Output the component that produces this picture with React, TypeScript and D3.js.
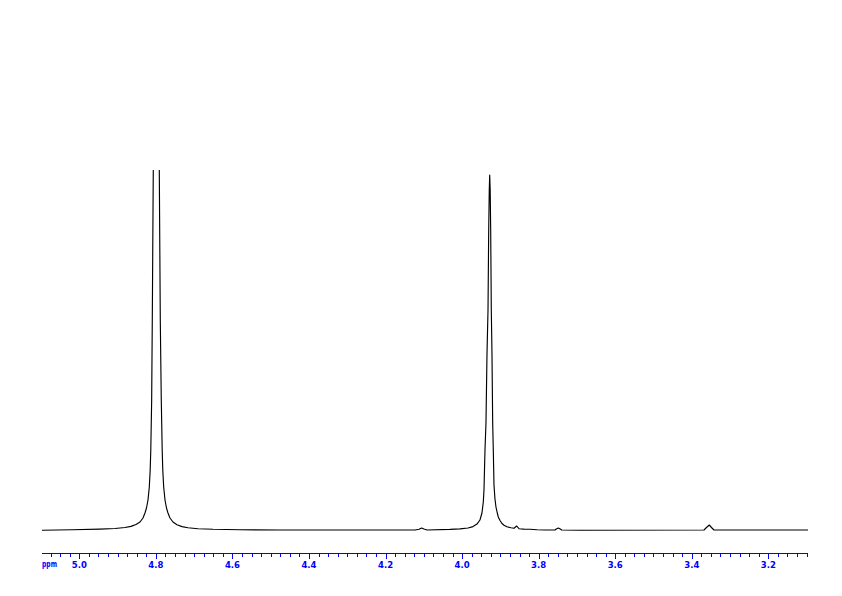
import React from "react";
import * as d3 from "d3";

// Spectrum trace: [chemical shift (ppm), intensity (a.u.)]
const spectrum: [number, number][] = [
  [5.0974, -0.3], [5.0191, 0.3], [4.9459, 0.9], [4.9067, 1.5], [4.8806, 2.5],
  [4.8649, 3.6], [4.8519, 5.5], [4.8414, 8], [4.8336, 12], [4.8284, 17],
  [4.8245, 22], [4.8205, 30], [4.8171, 43], [4.8148, 60], [4.8132, 80],
  [4.8109, 130], [4.8093, 210], [4.8067, 360], [4.8062, 380], [4.7983, 600],
  [4.7915, 380], [4.791, 360], [4.7884, 210], [4.7858, 130], [4.7834, 80],
  [4.7819, 60], [4.7795, 43], [4.7761, 30], [4.7722, 22], [4.7683, 17],
  [4.7631, 12], [4.7552, 8], [4.7448, 5.3], [4.7317, 3.4], [4.716, 2.2],
  [4.6899, 1.3], [4.6507, 0.7], [4.5802, 0.3], [4.4757, 0],
  [4.1231, 0], [4.1126, 0.8], [4.1056, 2], [4.0996, 1], [4.0917, 0],
  [4.0316, 0.6], [4.0055, 1.1], [3.9846, 2], [3.9715, 3.4], [3.9612, 5.9],
  [3.9534, 10], [3.9481, 17], [3.9446, 28], [3.9428, 40], [3.9402, 80],
  [3.9376, 107], [3.935, 175], [3.9323, 220], [3.9305, 300], [3.929, 340],
  [3.9279, 355], [3.9266, 340], [3.9253, 300], [3.9237, 220], [3.9219, 175],
  [3.9201, 107], [3.9185, 80], [3.9167, 45], [3.9141, 31], [3.9115, 23],
  [3.9081, 17], [3.9054, 13], [3.901, 9.5], [3.8958, 6.5], [3.8906, 4.8],
  [3.8827, 3.3], [3.8723, 2.2], [3.8644, 1.7], [3.8574, 4], [3.8514, 1.3],
  [3.8383, 0.9], [3.8226, 0.7], [3.8044, 0.2], [3.7835, 0],
  [3.7573, 0], [3.7539, 1], [3.7487, 2], [3.7435, 1], [3.7398, 0],
  [3.6919, -0.2], [3.3681, 0], [3.3616, 2.5], [3.3543, 5], [3.3485, 2.5],
  [3.342, 0], [3.0964, 0],
];

const ppmDomain: [number, number] = [5.0974, 3.0964];
const intensityDomain: [number, number] = [0, 360];
const majorTicks = [5.0, 4.8, 4.6, 4.4, 4.2, 4.0, 3.8, 3.6, 3.4, 3.2];
const majorTickLabels = ["5.0", "4.8", "4.6", "4.4", "4.2", "4.0", "3.8", "3.6", "3.4", "3.2"];
const minorStep = 0.025;
const minorFirst = 5.075;
const minorLast = 3.1;
const axisUnit = "ppm";

const W = 842;
const H = 596;
const plotLeft = 42;
const plotRight = 808;
const baselineY = 530;
const topY = 170;
const axisY = 553.5;
const blue = "#0000ff";

export default function App() {
  const x = d3.scaleLinear().domain(ppmDomain).range([plotLeft, plotRight]);
  const y = d3.scaleLinear().domain(intensityDomain).range([baselineY, topY]);
  const line = d3
    .line<[number, number]>()
    .x((d) => x(d[0]))
    .y((d) => y(d[1]));

  const nMinor = Math.round((minorFirst - minorLast) / minorStep);
  const minorTicks = d3.range(nMinor + 1).map((i) => minorFirst - i * minorStep);
  const isMajor = (v: number) => majorTicks.some((m) => Math.abs(m - v) < 1e-6);

  return (
    <svg
      width={W}
      height={H}
      style={{ position: "absolute", left: 0, top: 0, background: "#fff" }}
    >
      <defs>
        <clipPath id="plotClip">
          <rect x={0} y={topY} width={W} height={baselineY + 20 - topY} />
        </clipPath>
      </defs>
      <rect x={0} y={0} width={W} height={H} fill="#fff" />
      <path
        d={line(spectrum) || ""}
        fill="none"
        stroke="#000"
        strokeWidth={1.15}
        strokeLinejoin="round"
        clipPath="url(#plotClip)"
      />
      <g shapeRendering="crispEdges">
        <line x1={plotLeft} x2={plotRight} y1={axisY} y2={axisY} stroke={blue} strokeWidth={1} />
        {minorTicks
          .filter((v) => !isMajor(v))
          .map((v, i) => (
            <line
              key={"mn" + i}
              x1={Math.round(x(v)) + 0.5}
              x2={Math.round(x(v)) + 0.5}
              y1={axisY}
              y2={axisY + 3}
              stroke={blue}
            />
          ))}
        {majorTicks.map((v, i) => (
          <line
            key={"mj" + i}
            x1={Math.round(x(v)) + 0.5}
            x2={Math.round(x(v)) + 0.5}
            y1={axisY}
            y2={axisY + 5}
            stroke={blue}
          />
        ))}
      </g>
      <g fontFamily="'DejaVu Sans', sans-serif" fontSize={8.5} fontWeight="bold" fill={blue}>
        {majorTicks.map((v, i) => (
          <text key={"lb" + i} x={x(v)} y={568} textAnchor="middle">
            {majorTickLabels[i]}
          </text>
        ))}
        <text x={plotLeft} y={567} fontSize={9} textLength={15} lengthAdjust="spacingAndGlyphs">
          {axisUnit}
        </text>
      </g>
    </svg>
  );
}
